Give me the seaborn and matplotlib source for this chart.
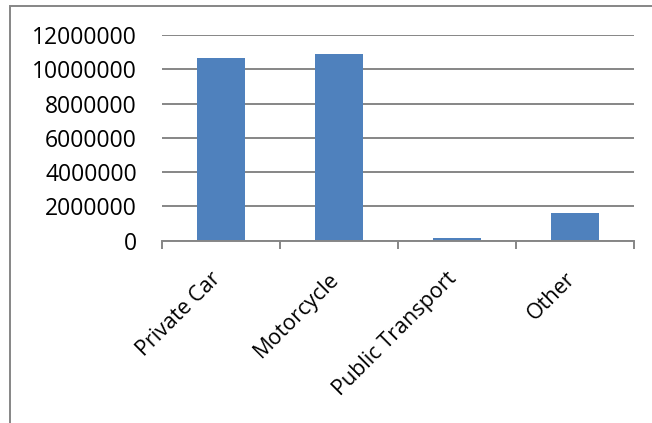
import matplotlib
matplotlib.use("Agg")
import matplotlib.pyplot as plt
from matplotlib.patches import Rectangle
from matplotlib.ticker import FixedLocator, FuncFormatter
from matplotlib.transforms import ScaledTranslation
import seaborn as sns
import pandas as pd

# Trips by transport mode
categories = ["Private Car", "Motorcycle", "Public Transport", "Other"]
values = [10650000, 10900000, 140000, 1600000]
y_ticks = [0, 2000000, 4000000, 6000000, 8000000, 10000000, 12000000]

df = pd.DataFrame({"mode": categories, "trips": values})

sns.set_theme(style="white")
plt.rcParams["font.family"] = ["Open Sans", "DejaVu Sans"]

fig = plt.figure(figsize=(6.52, 4.23), dpi=100)
ax = fig.add_axes([162 / 652, 1 - 240.7 / 423, (634 - 162) / 652, (240.7 - 35) / 423])

sns.barplot(data=df, x="mode", y="trips", color="#4F81BD", width=0.4,
            saturation=1, ax=ax, linewidth=0)

grid_c = "#868686"
ax.set_xlim(-0.5, len(categories) - 0.5)
ax.set_ylim(0, 12000000)
ax.yaxis.set_major_locator(FixedLocator(y_ticks))
ax.yaxis.set_major_formatter(FuncFormatter(lambda v, p: f"{int(v)}"))
ax.grid(axis="y", color=grid_c, linewidth=1.4)
ax.set_axisbelow(True)
for s in ["left", "right", "top"]:
    ax.spines[s].set_visible(False)
ax.spines["bottom"].set_color(grid_c)
ax.spines["bottom"].set_linewidth(1.4)
ax.set_xlabel("")
ax.set_ylabel("")

ax.tick_params(axis="y", length=0, pad=18, labelsize=16.5, colors="black")
# Category boundaries carry the tick marks; names are placed separately
ax.set_xticks(range(len(categories)))
ax.set_xticklabels([])
ax.tick_params(axis="x", which="major", length=0)
ax.xaxis.set_minor_locator(FixedLocator([i - 0.5 for i in range(len(categories) + 1)]))
ax.tick_params(axis="x", which="minor", bottom=True, length=6, width=1.4, color=grid_c)

# Slanted category names hanging below each category
shift = ScaledTranslation(-0.03, -0.35, fig.dpi_scale_trans)
for i, name in enumerate(categories):
    ax.text(i, 0, name, transform=ax.get_xaxis_transform() + shift,
            rotation=45, rotation_mode="anchor", ha="right", va="center",
            fontsize=15.5, color="black")

# Chart frame
fig.patches.append(Rectangle((10 / 652, -0.05), 1.0, 1 - 6 / 423 + 0.05,
                             transform=fig.transFigure, fill=False,
                             edgecolor=grid_c, linewidth=1.4))

fig.savefig("out.png", dpi=100)
